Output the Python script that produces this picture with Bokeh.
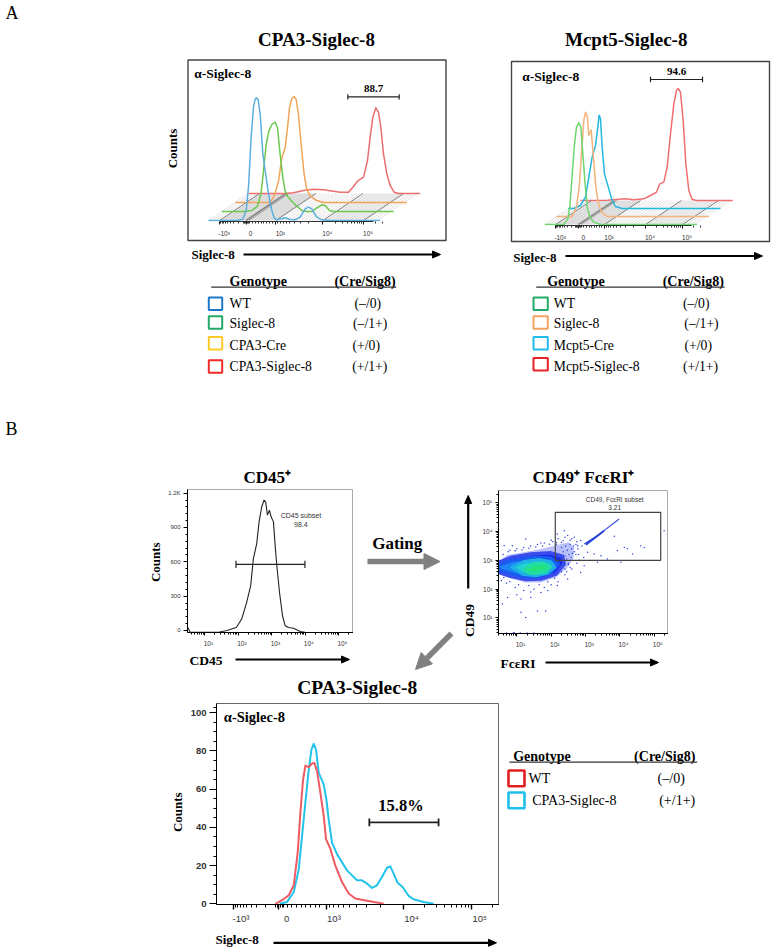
import math
import numpy as np
from bokeh.embed import file_html
from bokeh.resources import INLINE
from bokeh.plotting import figure
from bokeh.models import Range1d, FixedTicker, LinearAxis
from bokeh.core.properties import value

# ---- panel A, CPA3-Siglec-8: channel position on the front axis, counts above each layer's baseline
a1_wt_x = [115,200,218,228,235,243,250,255,259,264,270,278,285,295,305,312,320,335,345,360,375,390,405,415,425,440,455,480,630]
a1_wt_y = [0,0,4,30,100,250,340,364,368,362,320,200,150,80,30,8,2,5,8,3,2,10,35,40,35,10,2,0,0]
a1_sig_x = [115,185,205,222,232,240,248,256,265,275,282,290,298,305,312,325,340,355,370,385,400,415,425,438,450,630]
a1_sig_y = [0,0,3,16,51,121,201,241,261,268,251,171,101,61,46,31,16,3,0,0,11,20,18,3,0,0]
a1_cre_x = [115,220,232,245,255,265,272,278,285,292,298,305,313,322,330,340,360,380,630]
a1_cre_y = [0,0,19,64,134,164,224,284,312,318,309,264,174,84,39,19,6,0,0]
a1_tg_x = [115,225,250,280,310,340,370,390,415,428,442,460,472,480,488,497,505,512,520,530,540,552,565,630]
a1_tg_y = [0,0,2,9,13,11,7,4,4,19,37,49,99,169,229,257,244,199,119,59,24,4,0,0]
# ---- panel A, Mcpt5-Siglec-8
a2_wt_x = [133,190,202,208,216,222,228,235,241,247,253,260,268,280,300,590]
a2_wt_y = [0,0,17,52,162,242,292,305,292,212,132,52,22,7,0,0]
a2_sig_x = [132,179,192,200,207,214,219,224,229,236,242,249,257,267,284,589]
a2_sig_y = [0,0,28,88,188,288,313,303,243,260,188,98,43,13,0,0]
a2_cre_x = [131,148,168,183,193,203,213,220,224,228,233,240,253,263,273,293,588]
a2_cre_y = [0,0,9,34,94,154,189,244,280,269,184,104,59,24,6,0,0]
a2_tg_x = [132,212,267,292,322,342,360,370,382,392,402,412,420,425,432,440,448,457,467,482,589]
a2_tg_y = [0,1,5,2,5,15,25,50,55,100,200,290,330,336,325,240,110,30,3,0,0]
a_tick_labels = ["-10³", "0", "10³", "10⁴", "10⁵"]

# ---- panel B, CD45 histogram
cd45_log = [0.49,0.52,0.56,1.41,1.66,1.94,2.10,2.25,2.37,2.45,2.55,2.62,2.70,2.77,2.82,2.87,2.93,2.98,3.05,3.10,3.15,3.23,3.32,3.40,3.50,3.65,3.85,3.99]
cd45_counts = [26,10,-15,-15,0,26,100,246,392,627,759,949,1081,1140,1119,1008,1052,993,949,744,568,334,129,41,26,20,-9,-15]
cd45_ticks = [0,300,600,900,1200]
cd45_tick_labels = ["0","300","600","900","1.2K"]
log_tick_labels = {1:"10¹",2:"10²",3:"10³",4:"10⁴",5:"10⁵"}

# ---- panel B, CD49 / FceRI density regions (log10 units)
dens_0_x = [.466,.73,1.12,1.60,2.09,2.52,2.67,2.65,2.43,2.14,1.70,1.26,.87,.466]
dens_0_y = [2.93,3.19,3.26,3.37,3.51,3.63,3.45,3.05,2.70,2.41,2.23,2.23,2.35,2.52]
dens_1_x = [.466,.83,1.41,1.99,2.33,2.38,2.14,1.70,1.26,.83,.466]
dens_1_y = [2.93,3.10,3.22,3.26,3.14,2.87,2.52,2.35,2.33,2.44,2.58]
dens_2_x = [.466,.87,1.46,1.99,2.20,1.99,1.60,1.17,.78,.466]
dens_2_y = [2.84,2.99,3.10,3.07,2.87,2.58,2.44,2.44,2.56,2.67]
dens_3_x = [.87,1.21,1.65,1.99,2.09,1.89,1.55,1.17]
dens_3_y = [2.76,2.95,3.02,2.93,2.76,2.56,2.47,2.52]
dens_4_x = [1.21,1.46,1.75,1.97,1.84,1.55,1.33]
dens_4_y = [2.70,2.86,2.90,2.78,2.60,2.55,2.58]
streak_x = [2.96,3.35,3.98]
streak_y = [3.57,3.86,4.44]
streak_core_x = [3.01,3.54]
streak_core_y = [3.54,4.03]
sparse_x = [1.26,.63,.87,1.70,2.18,2.38,2.48,2.67,2.86,2.77,3.06,3.25,3.45,3.64,3.84,3.93,4.13,4.22,4.37,4.61,4.71,4.03,3.35,2.96,2.86,2.48,2.18,1.70,1.41,1.12,.73,.58,1.26,1.60,1.84,1.12,.92,5.29,
            .6,.8,1.0,1.2,1.4,1.6,1.8,2.0,2.2,2.4,2.6,2.75,2.9,2.8,2.95,2.75,2.6,2.4,2.2,2.0,1.8,1.5,1.2,.95,.7,.55,1.0,1.4,1.9,.7,.9,1.1,1.3,1.5,
            .75,.95,1.15,1.35,1.55,1.75,1.95,2.15,2.35,2.55,2.72,2.72,2.5,2.3,2.1,1.9,1.65,1.35,1.05,.8,.62,
            2.3,2.42,2.55,2.65,2.35,2.47,2.6,2.4,2.52,2.62,2.3,2.45,2.58,2.35,2.5,2.25,2.4,2.55,2.68,2.78,2.82,2.3,2.15,2.05,2.45]
sparse_y = [3.74,3.51,3.51,3.60,3.92,4.03,3.86,3.80,3.69,3.51,3.28,3.22,3.16,3.05,3.84,3.34,3.45,3.40,3.22,3.51,3.45,2.93,2.93,2.81,2.58,2.35,2.12,1.88,1.71,1.65,1.71,1.48,1.01,1.24,1.24,1.19,.49,4.03,
            3.2,3.35,3.4,3.45,3.5,3.55,3.6,3.7,3.75,3.8,3.75,3.65,3.5,3.2,3.1,2.9,2.7,2.5,2.25,2.15,2.05,2.0,1.95,2.05,2.2,2.3,1.8,1.9,1.95,.47,.47,.47,.47,.47,
            3.3,3.33,3.36,3.42,3.46,3.5,3.56,3.62,3.68,3.7,3.55,3.2,2.85,2.6,2.38,2.25,2.15,2.12,2.15,2.25,2.4,
            3.45,3.5,3.55,3.5,3.3,3.35,3.4,3.15,3.2,3.25,3.0,3.05,3.1,2.85,2.9,2.75,2.7,2.75,3.3,3.4,3.0,3.62,3.55,3.65,2.6]

# ---- panel B, CPA3-Siglec-8 overlay: channel, counts
c_tg_x = [358,380,400,415,425,435,445,453,460,467,475,490,498,505,515,530,545,560,575,590,605,620,635,650,665,680,690,698,712,727,745,760,790,820]
c_tg_y = [0,1,6.2,18,35.6,53,70,80.6,83.7,80.6,68.5,62.5,54.7,44,32,26,21.8,17.5,14.9,12.3,12.3,10.6,8.3,9.7,14,18.9,19.6,16.6,11,8.8,4.2,2.4,1,0]
c_wt_x = [345,365,385,400,412,420,428,435,445,455,462,470,480,490,497,510,525,545,565,585,620,670]
c_wt_y = [0,1.9,4.5,9.7,27,47.8,65,72.3,71.5,73.4,73.7,69.4,58,46,33.9,28.7,20,11.4,5.4,2.8,1.6,0]
c_y_ticks = [0,20,40,60,80,100]

# ---- legends
legend_head = ["Genotype", "(Cre/Sig8)"]
legend_cpa = ["WT", "Siglec-8", "CPA3-Cre", "CPA3-Siglec-8"]
legend_mcpt = ["WT", "Siglec-8", "Mcpt5-Cre", "Mcpt5-Siglec-8"]
legend_geno = ["(–/0)", "(–/1+)", "(+/0)", "(+/1+)"]
legend_c = ["WT", "CPA3-Siglec-8"]
legend_c_geno = ["(–/0)", "(+/1+)"]

SERIF = "Liberation Serif"
SANS = "Liberation Sans"
NB = "\u00a0"


def page_text(p, x, y, s, size, bold=False, align="left", angle=0.0, color="#000000", font=SERIF):
    p.text(x=[x], y=[y], text=[s], text_font=value(font), text_font_size=f"{size}px",
           text_font_style="bold" if bold else "normal", text_align=align, text_baseline="middle",
           text_color=color, angle=angle)


def decade_minor(a, b):
    return [a + (b - a) * math.log10(k) for k in range(2, 10)]


def at(left, top):
    return {"position": "absolute", "left": f"{left}px", "top": f"{top}px"}


def base_fig(left, top, w, h, xr, yr, ml, mb, **kw):
    p = figure(width=w, height=h, x_range=Range1d(*xr), y_range=Range1d(*yr), toolbar_location=None,
               output_backend="svg", min_border_left=ml, min_border_bottom=mb, min_border_top=0, min_border_right=0,
               background_fill_color=None, border_fill_color=None, styles=at(left, top), **kw)
    p.grid.visible = False
    return p


page = figure(width=773, height=952, x_range=Range1d(0, 773), y_range=Range1d(952, 0), toolbar_location=None,
              output_backend="svg", min_border=0, min_border_left=0, min_border_right=0, min_border_top=0, min_border_bottom=0,
              x_axis_location=None, y_axis_location=None, styles=at(0, 0))
page.grid.visible = False
page.outline_line_color = None


def arrow(x0, y0, x1, y1, w=2.2, head_l=8, head_w=7, color="#000000"):
    ang = math.atan2(y1 - y0, x1 - x0)
    ux, uy = math.cos(ang), math.sin(ang)
    bx, by = x1 - ux * head_l, y1 - uy * head_l
    page.line([x0, bx], [y0, by], line_color=color, line_width=w)
    page.patch([x1, bx - uy * head_w / 2, bx + uy * head_w / 2], [y1, by + ux * head_w / 2, by - ux * head_w / 2],
               fill_color=color, line_color=color)


def box(x0, y0, x1, y1, color, w=2.0):
    page.quad(left=[x0], right=[x1], top=[y0], bottom=[y1], fill_color=None, line_color=color, line_width=w)


# ---- page-level texts and marks
page_text(page, 5, 12, "A", 18)
page_text(page, 5, 428, "B", 18)
page_text(page, 316, 39, "CPA3-Siglec-8", 19, True, "center")
page_text(page, 625.7, 39, "Mcpt5-Siglec-8", 19, True, "center")
page_text(page, 172, 148, "Counts", 13, True, "center", math.pi / 2)
page_text(page, 191, 254, "Siglec-8", 13, True)
arrow(243, 254, 440, 254)
page_text(page, 512.7, 256.5, "Siglec-8", 13, True)
arrow(565, 255.5, 762, 255.5)
box(187.5, 59.5, 445.5, 240, "#444444", 1.4)
box(511, 61, 769, 241, "#444444", 1.4)

# legends, panel A
for (hx, cx, rx0, rx1, sx0, sx1, tx, names, gx, cols, sy) in [
    (229, 364.5, 210.7, 395.7, 208.3, 221.7, 229, legend_cpa, [367.3, 369.7, 365.7, 369.3],
     ["#1f78c8", "#22aa66", "#ffc926", "#ee2a2a"], [303.3, 322, 342.7, 366]),
    (546.7, 692.8, 535.7, 724, 533, 547.3, 553.3, legend_mcpt, [695.7, 701, 697.7, 700],
     ["#22aa66", "#f4a460", "#22bbee", "#e8222a"], [303.3, 322, 342.7, 363.7]),
]:
    page_text(page, hx, 280.7, legend_head[0], 14, True)
    page_text(page, cx, 280.7, legend_head[1], 14, True, "center")
    page.line([rx0, rx1], [286.7, 286.7], line_color="#333333", line_width=1.2)
    for i, ty in enumerate([302.7, 322.7, 345.3, 365.7]):
        box(sx0, sy[i] - 6.3, sx1, sy[i] + 6.3, cols[i])
        page_text(page, tx, ty, names[i], 13.7)
        page_text(page, gx[i], ty, legend_geno[i], 13.7, False, "center")

# panel B texts
page_text(page, 266.7, 477, "CD45⁺", 17, True, "center")
page_text(page, 155, 561.7, "Counts", 13, True, "center", math.pi / 2)
page_text(page, 189, 660, "CD45", 13.5, True)
arrow(235, 659, 349, 659)
page_text(page, 396.7, 543.3, "Gating", 17, True, "center")
arrow(367, 561, 439.5, 561, 5.5, 16, 16, "#808080")
arrow(451, 633, 415, 669, 5.5, 16, 16, "#808080")
page_text(page, 583, 477, "CD49⁺ FcεRI⁺", 17, True, "center")
page_text(page, 500, 662.7, "FcεRI", 13.5, True)
arrow(545, 662, 658, 662)
page_text(page, 469, 620, "CD49", 13.5, True, "center", math.pi / 2)
arrow(467.7, 588, 467.7, 495)
page_text(page, 356.7, 686.7, "CPA3-Siglec-8", 19.5, True, "center")
page_text(page, 176.7, 811.7, "Counts", 13, True, "center", math.pi / 2)
page_text(page, 215, 939.3, "Siglec-8", 13, True)
arrow(273, 942.3, 496, 942.3)
page_text(page, 512.7, 755.7, legend_head[0], 14, True)
page_text(page, 664.2, 755.7, legend_head[1], 14, True, "center")
page.line([509, 696.7], [761.7, 761.7], line_color="#333333", line_width=1.2)
box(508, 770, 524, 785.7, "#e02020", 2.6)
box(508, 792, 524, 807.7, "#1cc0ea", 2.6)
page_text(page, 528, 778.3, legend_c[0], 14)
page_text(page, 531.7, 800, legend_c[1], 14)
page_text(page, 670.7, 778.3, legend_c_geno[0], 14, False, "center")
page_text(page, 676.7, 800, legend_c_geno[1], 14, False, "center")


def layered_panel(left, top, w, frame_h, xr, yr, ticks, dx, rise, x_ext, shade, series, gate, gate_label, alpha_y, alpha_x):
    p = base_fig(left, top, w, frame_h + 18, xr, yr, 0, 18, y_axis_location=None, x_axis_location=None)
    p.outline_line_color = None
    # minor tick positions of a biexponential axis
    neg, zero, k3, k4, k5 = ticks
    minors = decade_minor(zero, neg) + decade_minor(k4, k3) + decade_minor(k4, k5) + decade_minor(k5, k5 + (k5 - k4))[:2]
    minors += [zero + (k3 - zero) * f for f in (0.2, 0.3, 0.4, 0.5, 0.6, 0.7, 0.8, 0.9)]
    cluster = [zero + s * 3 for s in range(-3, 4)]
    axis = LinearAxis(ticker=FixedTicker(ticks=ticks, minor_ticks=minors + cluster), bounds=(neg, k5 + (k5 - k4) * 0.25),
                      major_label_overrides={t: NB * 5 + l for t, l in zip(ticks, a_tick_labels)},
                      major_label_text_font=SANS, major_label_text_font_size="6.5px", major_label_text_color="#333333",
                      major_tick_line_color="#111111", major_tick_in=0, major_tick_out=3, minor_tick_line_color="#333333",
                      minor_tick_in=0, minor_tick_out=2, axis_line_color="#333333", major_label_standoff=5)
    p.add_layout(axis, "below")
    # floor of the stacked view
    for x0, x1, c in shade:
        p.patch([x0, x1, x1 + dx * 3, x0 + dx * 3], [0, 0, rise * 3, rise * 3], fill_color=c, line_color=None)
    hatch = [x_ext[0] + i * 11.5 for i in range(int((x_ext[1] - x_ext[0]) / 11.5) + 1)]
    p.multi_line([[h, h + dx * 3] for h in hatch], [[0, rise * 3]] * len(hatch), line_color="#cfcfcf", line_width=0.6)
    p.multi_line([[t, t + dx * 3] for t in ticks], [[0, rise * 3]] * len(ticks), line_color="#666666", line_width=0.8)
    for k in range(3, -1, -1):
        xs, ys, col = series[k]
        p.line([x + k * dx for x in xs], [y + k * rise for y in ys], line_color=col, line_width=1.5, line_join="round")
    lo, hi, lev = gate
    p.segment([lo, lo, hi], [lev, lev - 8, lev - 8], [hi, lo, hi], [lev, lev + 8, lev + 8], line_color="#222222", line_width=1.2)
    p.text([(lo + hi) / 2], [lev + 25], [gate_label], text_font=value(SERIF), text_font_style="bold", text_font_size="11px",
           text_align="center", text_baseline="middle")
    p.text([alpha_x], [alpha_y], ["α-Siglec-8"], text_font=value(SERIF), text_font_style="bold", text_font_size="13.5px",
           text_align="left", text_baseline="middle")
    return p


pa1 = layered_panel(187, 59, 258, 162, (52, 826), (-3, 483), [148, 228, 317, 458, 580], 40, 27, (115, 630),
                    [(148, 222, "#e0e0e0"), (222, 240, "#a8a8a8"), (240, 317, "#e0e0e0"), (458, 580, "#f0f0f0")],
                    [(a1_wt_x, a1_wt_y, "#5aaee0"), (a1_sig_x, a1_sig_y, "#6cc94e"), (a1_cre_x, a1_cre_y, "#f2a55a"), (a1_tg_x, a1_tg_y, "#ee6e6e")],
                    (533, 687, 371), "88.7", 440, 72)
pa2 = layered_panel(511, 61, 258, 164, (33, 807), (-3, 489), [165, 235, 312, 435, 546], 36, 24, (133, 590),
                    [(165, 228, "#e2e2e2"), (228, 246, "#adadad"), (246, 312, "#e4e4e4"), (435, 546, "#f2f2f2")],
                    [(a2_wt_x, a2_wt_y, "#6fd66f"), (a2_sig_x, a2_sig_y, "#f5b27a"), (a2_cre_x, a2_cre_y, "#22b8e0"), (a2_tg_x, a2_tg_y, "#ef6f6f")],
                    (450, 606, 435), "94.6", 444, 65)


def log_axis_x(p, labels_size="6.5px"):
    maj = [10.0 ** e for e in log_tick_labels]
    minor = [k * 10.0 ** e for e in range(0, 6) for k in range(2, 10)]
    ax = p.xaxis[0]
    ax.ticker = FixedTicker(ticks=maj, minor_ticks=minor)
    ax.major_label_overrides = {10.0 ** e: NB * 4 + l for e, l in log_tick_labels.items()}
    ax.major_label_text_font = SANS
    ax.major_label_text_font_size = labels_size
    ax.major_label_text_color = "#333333"
    ax.major_tick_out = 3
    ax.major_tick_in = 0
    ax.minor_tick_out = 2
    ax.minor_tick_in = 0
    ax.major_label_standoff = 4


# ---- CD45 histogram
pb1 = base_fig(157, 489, 196, 143 + 18, (10 ** 0.483, 10 ** 5.44), (-17.5, 1232), 30, 18, x_axis_type="log")
pb1.outline_line_color = "#aaaaaa"
log_axis_x(pb1)
ya = pb1.yaxis[0]
ya.ticker = FixedTicker(ticks=cd45_ticks, minor_ticks=[t + 60 * k for t in cd45_ticks[:-1] for k in range(1, 5)])
ya.major_label_overrides = {t: l for t, l in zip(cd45_ticks, cd45_tick_labels)}
ya.major_label_text_font = SANS
ya.major_label_text_font_size = "6px"
ya.major_label_text_color = "#333333"
ya.major_tick_out = 4
ya.major_tick_in = 0
ya.minor_tick_out = 2
ya.minor_tick_in = 0
ya.major_label_standoff = 3
pb1.line(np.power(10.0, cd45_log), cd45_counts, line_color="#222222", line_width=1.1)
g0, g1 = 10 ** 1.93, 10 ** 3.99
pb1.segment([g0, g0, g1], [577, 545, 545], [g1, g0, g1], [577, 609, 609], line_color="#222222", line_width=1.2)
for t, yy in [("CD45 subset", 1002), ("98.4", 929)]:
    pb1.text([10 ** 3.87], [yy], [t], text_font=value(SANS), text_font_size="7px", text_align="center",
             text_baseline="middle", text_color="#333333")

# ---- CD49 / FceRI density
pb2 = base_fig(498 - 28, 490, 170 + 28, 143 + 18, (10 ** 0.466, 10 ** 5.417), (10 ** 0.453, 10 ** 5.43), 28, 18,
               x_axis_type="log", y_axis_type="log")
pb2.outline_line_color = "#aaaaaa"
log_axis_x(pb2)
ya = pb2.yaxis[0]
ya.ticker = FixedTicker(ticks=[10.0 ** e for e in log_tick_labels], minor_ticks=[k * 10.0 ** e for e in range(0, 6) for k in range(2, 10)])
ya.major_label_overrides = {10.0 ** e: l for e, l in log_tick_labels.items()}
ya.major_label_text_font = SANS
ya.major_label_text_font_size = "6.5px"
ya.major_label_text_color = "#333333"
ya.major_tick_out = 3
ya.major_tick_in = 0
ya.minor_tick_out = 2
ya.minor_tick_in = 0
ya.major_label_standoff = 3
pb2.patch(np.power(10.0, dens_0_x), np.power(10.0, dens_0_y), fill_color="#8c98f6", fill_alpha=0.6, line_color=None)
pb2.scatter(np.power(10.0, sparse_x), np.power(10.0, sparse_y), size=1.5, color="#2f45e6", line_color=None)
for xs, ys, c, edge in [(dens_1_x, dens_1_y, "#1a2ee8", "#3b4cec"), (dens_2_x, dens_2_y, "#1c86f5", "#1a5cf0"),
                        (dens_3_x, dens_3_y, "#22d3d3", "#1fb0e6"), (dens_4_x, dens_4_y, "#22e27a", "#22dca5")]:
    pb2.patch(np.power(10.0, xs), np.power(10.0, ys), fill_color=c, line_color=edge, line_width=3.5, line_join="round")
pb2.line(np.power(10.0, streak_x), np.power(10.0, streak_y), line_color="#3a50e0", line_width=1.2)
pb2.line(np.power(10.0, streak_core_x), np.power(10.0, streak_core_y), line_color="#2840d8", line_width=2)
gx0, gx1, gy0, gy1 = 10 ** 2.12, 10 ** 5.19, 10 ** 3.0, 10 ** 4.67
pb2.line([gx0, gx0, gx1, gx1, gx0], [gy0, gy1, gy1, gy0, gy0], line_color="#444444", line_width=1.2)
for t, yy in [("CD49, FcεRI subset", 5.12), ("3.21", 4.83)]:
    pb2.text([10 ** 3.85], [10 ** yy], [t], text_font=value(SANS), text_font_size="6.5px", text_align="center",
             text_baseline="middle", text_color="#333333")

# ---- CPA3-Siglec-8 overlay
pc = base_fig(216 - 35, 703, 283 + 35, 203 + 20, (168, 1018), (-0.35, 104.8), 35, 20)
pc.outline_line_color = "#666666"
c_ticks = [218, 355, 497, 730, 935]
c_minor = decade_minor(355, 218) + decade_minor(730, 497) + decade_minor(730, 935) + decade_minor(935, 1140)[:2]
c_minor += [355 + s * 5 for s in range(-2, 4)] + [380 + s * 14 for s in range(8)]
xa = pc.xaxis[0]
xa.ticker = FixedTicker(ticks=c_ticks, minor_ticks=c_minor)
xa.major_label_overrides = {t: NB * 6 + l for t, l in zip(c_ticks, a_tick_labels)}
xa.major_label_text_font = SANS
xa.major_label_text_font_size = "9.5px"
xa.major_label_text_color = "#333333"
xa.major_tick_out = 5
xa.major_tick_in = 0
xa.minor_tick_out = 3
xa.minor_tick_in = 0
xa.major_tick_line_width = 1.4
xa.major_label_standoff = 3
ya = pc.yaxis[0]
ya.ticker = FixedTicker(ticks=c_y_ticks, minor_ticks=[t + 5 * k for t in c_y_ticks[:-1] for k in range(1, 4)] + [102.5])
ya.major_label_text_font = SANS
ya.major_label_text_font_size = "9.5px"
ya.major_label_text_font_style = "bold"
ya.major_label_text_color = "#333333"
ya.major_tick_out = 7
ya.major_tick_in = 0
ya.minor_tick_out = 3
ya.minor_tick_in = 0
ya.major_label_standoff = 3
pc.line(c_tg_x, c_tg_y, line_color="#22c3ea", line_width=2, line_join="round")
pc.line(c_wt_x, c_wt_y, line_color="#ee5a62", line_width=2, line_join="round")
pc.segment([627, 627, 835], [42.6, 40.6, 40.6], [835, 627, 835], [42.6, 44.6, 44.6], line_color="#222222", line_width=1.8)
pc.text([722], [51.7], ["15.8%"], text_font=value(SERIF), text_font_style="bold", text_font_size="16.5px",
        text_align="center", text_baseline="middle")
pc.text([190], [97.6], ["α-Siglec-8"], text_font=value(SERIF), text_font_style="bold", text_font_size="14.5px",
        text_align="left", text_baseline="middle")

# ---- every figure sits at its own spot on the page
open("out.html", "w").write(file_html([page, pa1, pa2, pb1, pb2, pc], INLINE))
